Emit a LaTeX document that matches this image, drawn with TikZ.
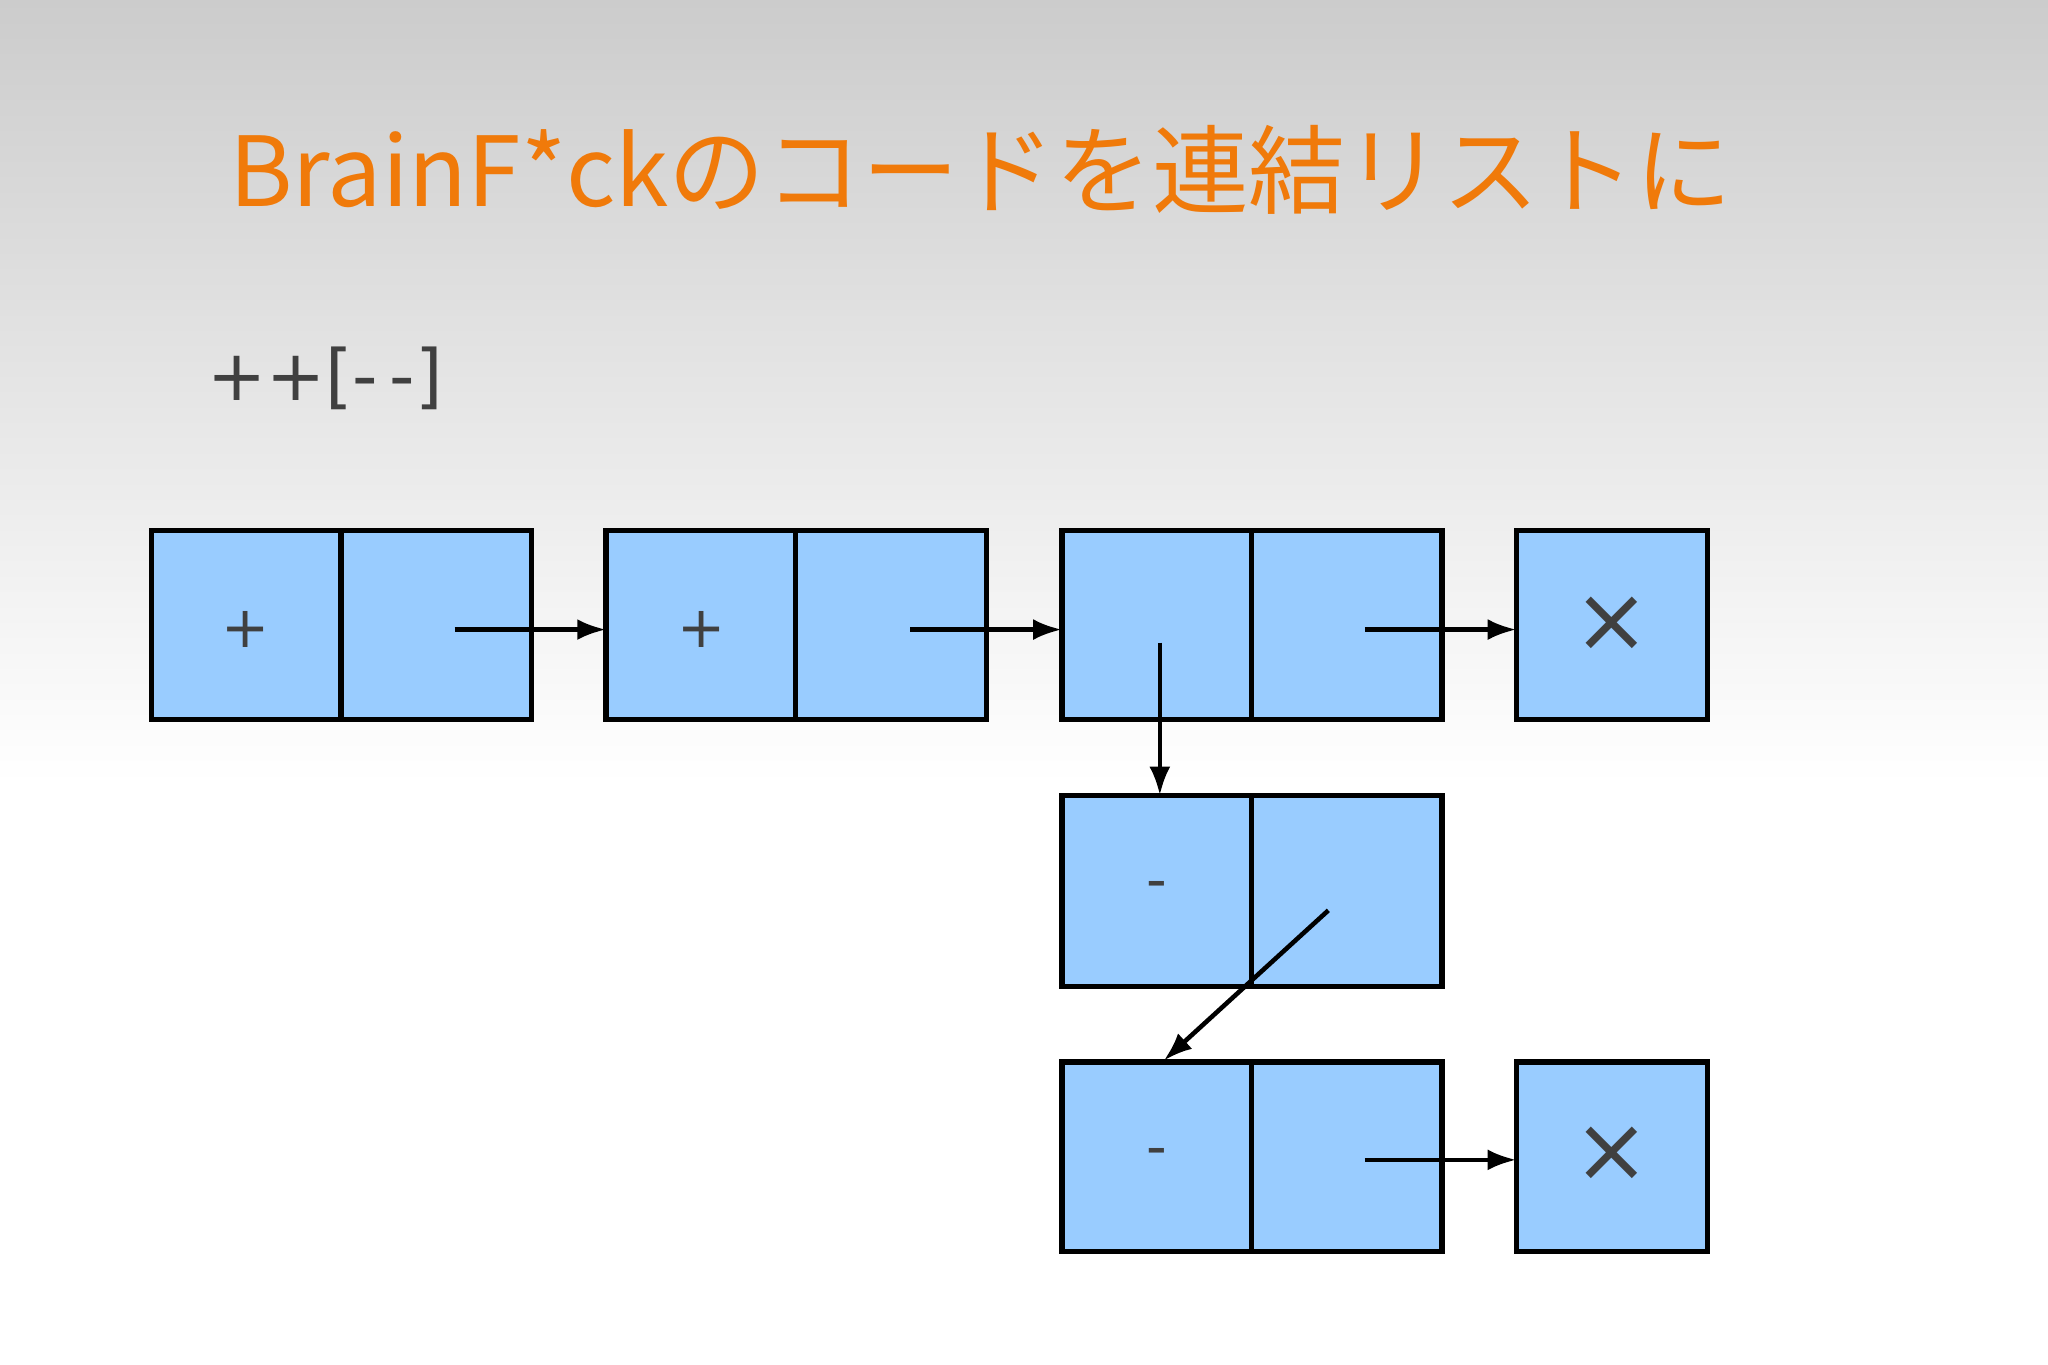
\documentclass[tikz,border=0pt]{standalone}
\usepackage{fontspec}
\setmainfont{DejaVu Sans}
\newfontfamily\jp{Noto Sans CJK JP}
\usetikzlibrary{arrows.meta}
\definecolor{cellblue}{HTML}{99CCFF}
\definecolor{ttl}{HTML}{F07A0A}
\tikzset{cell/.style={draw=black,line width=4pt,fill=cellblue},
 link/.style={line width=3.5pt,-{Latex[length=22pt,width=16pt]}},
 sym/.style={text=black!75,font=\fontsize{44}{44}\selectfont}}
\begin{document}
\begin{tikzpicture}[x=1pt,y=-1pt]
\useasboundingbox (0,0) rectangle (1568,1045);
\shade[top color=black!20,bottom color=white] (0,0) rectangle (1568,600);
\fill[white] (0,600) rectangle (1568,1045);
\node[text=ttl,font=\jp\fontsize{74}{74}\selectfont,anchor=west] (title) at (172,130) {BrainF*ckのコードを連結リストに};
\node[text=black!75,font=\fontsize{54}{54}\selectfont,anchor=west] (code) at (155,290) {++[-\,-]};
% row 1
\draw[cell] (116,406) rectangle (261,551); \draw[cell] (261,406) rectangle (407,551);
\draw[cell] (464,406) rectangle (609,551); \draw[cell] (609,406) rectangle (755,551);
\draw[cell] (813,406) rectangle (958,551); \draw[cell] (958,406) rectangle (1104,551);
\draw[cell] (1161,406) rectangle (1307,551);
% row 2
\draw[cell] (813,609) rectangle (958,755); \draw[cell] (958,609) rectangle (1104,755);
% row 3
\draw[cell] (813,813) rectangle (958,958); \draw[cell] (958,813) rectangle (1104,958);
\draw[cell] (1161,813) rectangle (1307,958);
\node[sym] (p1) at (188,482) {+};
\node[sym] (p2) at (537,482) {+};
\node[sym] (m1) at (886,682) {-};
\node[sym] (m2) at (886,886) {-};
\node[sym,font=\fontsize{70}{70}\selectfont] (x1) at (1234,478) {×};
\node[sym,font=\fontsize{70}{70}\selectfont] (x2) at (1234,884) {×};
\coordinate (a1) at (348,482); \coordinate (b1) at (464,482);
\coordinate (a2) at (697,482); \coordinate (b2) at (813,482);
\coordinate (a3) at (1045,482); \coordinate (b3) at (1161,482);
\coordinate (a4) at (888,492); \coordinate (b4) at (888,609);
\coordinate (a5) at (1017,697); \coordinate (b5) at (891,812);
\coordinate (a6) at (1045,888); \coordinate (b6) at (1161,888);
\foreach \i in {1,...,6} \draw[link] (a\i) -- (b\i);
\end{tikzpicture}
\end{document}
